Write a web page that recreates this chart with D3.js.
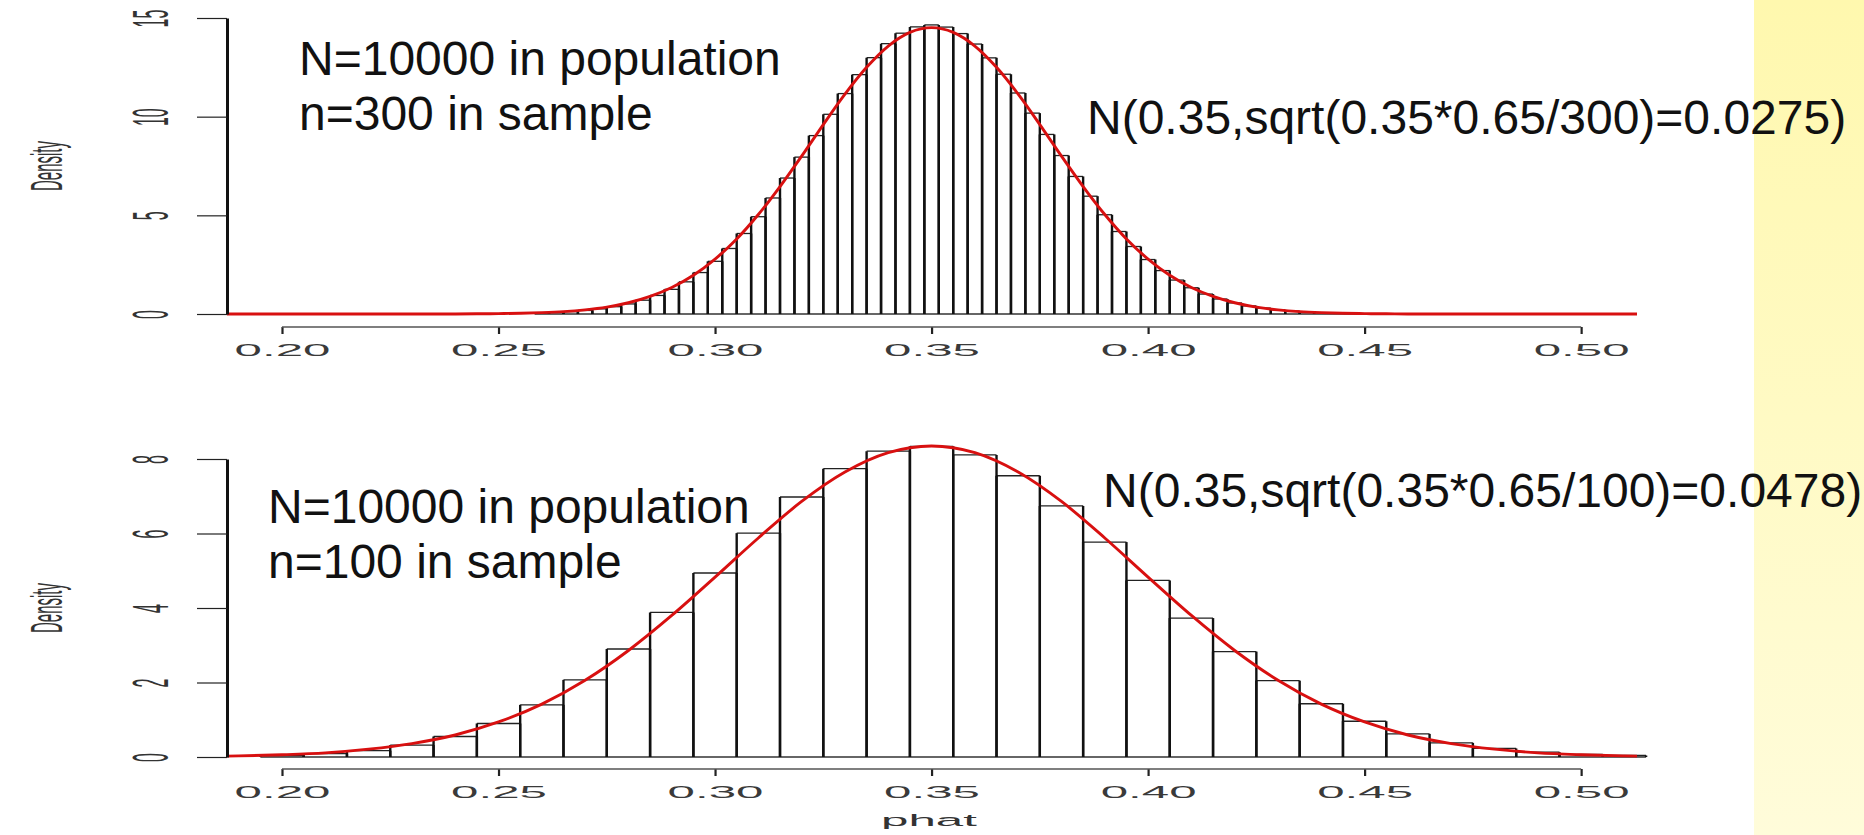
<!DOCTYPE html>
<html>
<head>
<meta charset="utf-8">
<script src="https://cdn.jsdelivr.net/npm/d3@7/dist/d3.min.js"></script>
<style>
  html, body { margin: 0; padding: 0; background: #fff; }
  svg { display: block; }
  text { font-family: "Liberation Sans", Arial, sans-serif; }
</style>
</head>
<body>
<div id="chart"></div>
<script>
// ---- data ----
const xTicks = [0.20, 0.25, 0.30, 0.35, 0.40, 0.45, 0.50];
const topYTicks = [0, 5, 10, 15];
const botYTicks = [0, 2, 4, 6, 8];

// top panel: n=300, one bin per possible phat value (k/300)
const topBinWidth = 1 / 300;
const topBins = d3.range(78, 135).map(k => k / 300);
const topDensity = [
  0.05, 0.08, 0.12, 0.18, 0.26, 0.37, 0.51, 0.70, 0.94, 1.25,
  1.63, 2.10, 2.67, 3.32, 4.08, 4.93, 5.88, 6.89, 7.95, 9.04,
  10.12, 11.17, 12.13, 12.99, 13.70, 14.23, 14.55, 14.65, 14.54, 14.21,
  13.68, 12.98, 12.15, 11.20, 10.18, 9.10, 8.03, 6.97, 5.97, 5.03,
  4.18, 3.42, 2.76, 2.20, 1.72, 1.33, 1.01, 0.76, 0.56, 0.41,
  0.30, 0.21, 0.15, 0.10, 0.07, 0.05, 0.03
];
// red normal curve for the top panel, sampled every 0.005 from 0.185
const topCurveX = d3.range(37, 104).map(i => i * 0.005);
const topCurve = [
  0, 0, 0, 0, 0, 0, 0, 0, 0, 0, 0, 0,
  0.01, 0.02, 0.04, 0.07, 0.12, 0.21, 0.35, 0.57, 0.89, 1.34,
  1.96, 2.78, 3.80, 5.04, 6.46, 8.00, 9.60, 11.14, 12.50, 13.58, 14.27,
  14.51,
  14.27, 13.58, 12.50, 11.14, 9.60, 8.00, 6.46, 5.04, 3.80, 2.78, 1.96,
  1.34, 0.89, 0.57, 0.35, 0.21, 0.12, 0.07, 0.04, 0.02, 0.01,
  0, 0, 0, 0, 0, 0, 0, 0, 0, 0, 0, 0
];

// bottom panel: n=100, bins of 0.01
const botBinWidth = 0.01;
const botBins = d3.range(20, 52).map(k => k / 100);
const botDensity = [
  0.04, 0.09, 0.17, 0.32, 0.55, 0.90, 1.40, 2.07, 2.90, 3.88,
  4.94, 6.01, 6.98, 7.74, 8.21, 8.34, 8.11, 7.55, 6.74, 5.77,
  4.74, 3.73, 2.83, 2.05, 1.43, 0.96, 0.62, 0.38, 0.23, 0.13,
  0.07, 0.04
];
const botCurveX = d3.range(18, 53).map(i => i / 100);
const botCurve = [
  0.01, 0.03, 0.06, 0.11, 0.21, 0.36, 0.59, 0.94, 1.42, 2.06,
  2.86, 3.80, 4.83, 5.88, 6.86, 7.65, 8.17,
  8.35,
  8.17, 7.65, 6.86, 5.88, 4.83, 3.80, 2.86, 2.06, 1.42, 0.94,
  0.59, 0.36, 0.21, 0.11, 0.06, 0.03, 0.01
];

const topNotes = ["N=10000 in population", "n=300 in sample"];
const topFormula = "N(0.35,sqrt(0.35*0.65/300)=0.0275)";
const botNotes = ["N=10000 in population", "n=100 in sample"];
const botFormula = "N(0.35,sqrt(0.35*0.65/100)=0.0478)";

// ---- layout ----
const W = 1864, H = 835;
const xDomain = [0.1873, 0.5129];

const svg = d3.select("#chart").append("svg")
  .attr("width", W).attr("height", H);

// yellow slide strip on the right
const defs = svg.append("defs");
const grad = defs.append("linearGradient").attr("id", "strip")
  .attr("x1", 0).attr("y1", 0).attr("x2", 0).attr("y2", 1);
grad.append("stop").attr("offset", "0%").attr("stop-color", "#fff8ae");
grad.append("stop").attr("offset", "100%").attr("stop-color", "#fffcda");
svg.append("rect").attr("x", 1754).attr("y", 0)
  .attr("width", W - 1754).attr("height", H).attr("fill", "url(#strip)");

const x = d3.scaleLinear().domain(xDomain).range([227, 1637]);

defs.append("clipPath").attr("id", "plotclip")
  .append("rect").attr("x", 227).attr("y", 0).attr("width", 1637 - 227).attr("height", H);

function panel(cfg) {
  const y = d3.scaleLinear().domain([0, cfg.yMax]).range([cfg.y0, cfg.yTop]);
  const g = svg.append("g");

  // histogram bars
  const bars = cfg.bins.map((c, i) => ({
    x0: c - cfg.binWidth / 2, x1: c + cfg.binWidth / 2, v: cfg.density[i]
  }));
  g.selectAll(".bar").data(bars).enter().append("rect")
    .attr("x", d => x(d.x0)).attr("width", d => x(d.x1) - x(d.x0))
    .attr("y", d => y(d.v)).attr("height", d => y(0) - y(d.v))
    .attr("fill", "#fff");
  // bar bottoms and tops are thin, sides are thick (stretched picture)
  g.append("line")
    .attr("x1", x(bars[0].x0)).attr("x2", x(bars[bars.length - 1].x1))
    .attr("y1", y(0)).attr("y2", y(0))
    .attr("stroke", "#333").attr("stroke-width", 1.3);
  g.selectAll(".top").data(bars).enter().append("line")
    .attr("x1", d => x(d.x0)).attr("x2", d => x(d.x1))
    .attr("y1", d => y(d.v)).attr("y2", d => y(d.v))
    .attr("stroke", "#222").attr("stroke-width", 1.3);
  const edges = [];
  bars.forEach(d => { edges.push({ at: d.x0, v: d.v }); edges.push({ at: d.x1, v: d.v }); });
  g.selectAll(".edge").data(edges).enter().append("line")
    .attr("x1", d => x(d.at)).attr("x2", d => x(d.at))
    .attr("y1", y(0)).attr("y2", d => y(d.v))
    .attr("stroke", "#111").attr("stroke-width", 2.4);

  // normal curve
  const line = d3.line()
    .x((d, i) => x(cfg.curveX[i]))
    .y(d => y(d))
    .curve(d3.curveMonotoneX);
  g.append("path").datum(cfg.curve)
    .attr("clip-path", "url(#plotclip)")
    .attr("d", line)
    .attr("fill", "none").attr("stroke", "#d81010").attr("stroke-width", 2.9);

  // y axis
  const yAxis = g.append("g").attr("transform", "translate(227,0)")
    .call(d3.axisLeft(y).tickValues(cfg.yTicks).tickSize(30).tickSizeOuter(0)
      .tickFormat(d3.format("d")));
  yAxis.select(".domain").attr("stroke", "#111").attr("stroke-width", 3);
  yAxis.selectAll(".tick line").attr("stroke", "#222").attr("stroke-width", 1.2);
  yAxis.selectAll(".tick text")
    .attr("x", null).attr("dy", null)
    .attr("text-anchor", "middle")
    .attr("transform", "translate(-59,0) scale(3.1,1) rotate(-90)")
    .attr("font-size", 16).attr("fill", "#333")
    .style("font-family", "'Liberation Sans', Arial, sans-serif");

  // x axis
  const xAxis = g.append("g").attr("transform", `translate(0,${cfg.axisY})`)
    .call(d3.axisBottom(x).tickValues(xTicks).tickSize(7).tickSizeOuter(0)
      .tickFormat(d3.format(".2f")));
  xAxis.select(".domain").remove();
  xAxis.append("line")
    .attr("x1", x(xTicks[0])).attr("x2", x(xTicks[xTicks.length - 1]))
    .attr("stroke", "#555").attr("stroke-width", 1.5);
  xAxis.selectAll(".tick line").attr("stroke", "#222").attr("stroke-width", 2.2);
  xAxis.selectAll(".tick text")
    .attr("y", null).attr("dy", null)
    .attr("transform", "translate(0,29) scale(2.9,1)")
    .attr("font-size", 17).attr("fill", "#3a3a3a")
    .style("font-family", "'Liberation Sans', Arial, sans-serif");

  // axis title
  g.append("text")
    .attr("transform", `translate(62,${(cfg.y0 + cfg.yTop) / 2}) scale(3.0,1) rotate(-90)`)
    .attr("text-anchor", "middle").attr("font-size", 15).attr("fill", "#333")
    .text("Density");

  // annotations
  cfg.notes.forEach((t, i) => {
    g.append("text").attr("x", cfg.noteX).attr("y", cfg.noteY + i * 55)
      .attr("font-size", 48).attr("fill", "#111").text(t);
  });
  g.append("text").attr("x", cfg.formulaX).attr("y", cfg.formulaY)
    .attr("font-size", 48).attr("fill", "#111").text(cfg.formula);
}

panel({
  yMax: 15, y0: 314, yTop: 18, axisY: 327, yTicks: topYTicks,
  bins: topBins, binWidth: topBinWidth, density: topDensity,
  curveX: topCurveX, curve: topCurve,
  notes: topNotes, noteX: 299, noteY: 75,
  formula: topFormula, formulaX: 1087, formulaY: 134
});

panel({
  yMax: 8, y0: 757, yTop: 459, axisY: 769, yTicks: botYTicks,
  bins: botBins, binWidth: botBinWidth, density: botDensity,
  curveX: botCurveX, curve: botCurve,
  notes: botNotes, noteX: 268, noteY: 523,
  formula: botFormula, formulaX: 1103, formulaY: 507
});

svg.append("text")
  .attr("transform", "translate(929,826) scale(2.9,1)")
  .attr("text-anchor", "middle").attr("font-size", 17).attr("fill", "#333")
  .text("phat");
</script>
</body>
</html>
